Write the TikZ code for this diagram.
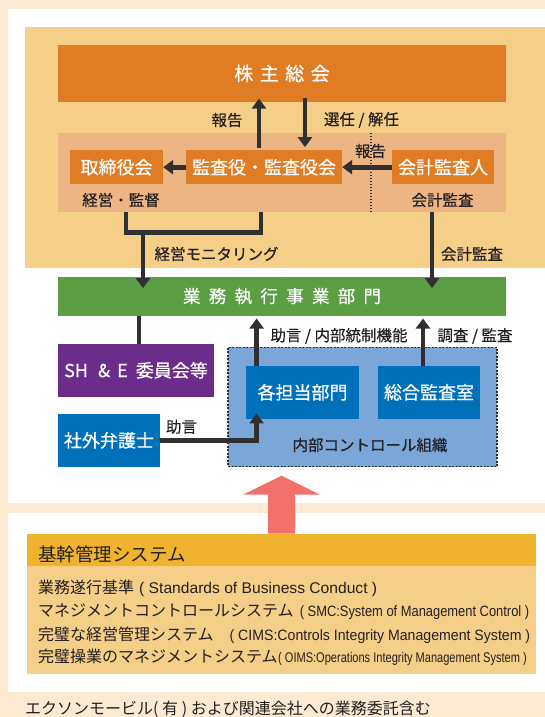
\documentclass[tikz,border=0pt]{standalone}
\usepackage{fontspec}
\setmainfont{Noto Sans CJK JP}
\newfontfamily\jpm[FakeBold=0.45]{Noto Sans CJK JP}
\newfontfamily\latf{Liberation Sans}
\usetikzlibrary{arrows.meta}
\definecolor{cream}{HTML}{FCEBD2}
\definecolor{lorange}{HTML}{F5CF88}
\definecolor{orange1}{HTML}{E07C24}
\definecolor{salmon}{HTML}{EEB584}
\definecolor{green1}{HTML}{5B9E44}
\definecolor{purple1}{HTML}{6C2C8C}
\definecolor{blue1}{HTML}{0070BA}
\definecolor{lblue}{HTML}{7BA6D8}
\definecolor{pink1}{HTML}{F1706A}
\definecolor{yel}{HTML}{EFB32F}
\definecolor{ink}{HTML}{231F20}
\definecolor{dk}{HTML}{303030}
\newcommand\hfit[2]{\resizebox{#1}{\height}{#2}}
\begin{document}
\begin{tikzpicture}[x=1pt,y=-1pt,
  box/.style={inner sep=0pt, text=white, font=\jpm\fontsize{18}{18}\selectfont},
  lbl/.style={inner sep=0pt, text=ink, font=\jpm\fontsize{15.5}{15.5}\selectfont},
  arr/.style={draw=dk, line width=4.6pt, -{Triangle[width=14pt,length=10pt]}},
  ln/.style={draw=dk, line width=4.6pt},
  jline/.style={anchor=base west, inner sep=0pt, text=ink, font=\fontsize{16}{16}\selectfont},
  eline/.style={anchor=base west, inner sep=0pt, text=ink},
]
\useasboundingbox (0,0) rectangle (545,717);
\fill[cream] (0,0) rectangle (545,717);
\fill[white] (8.3,9) rectangle (545,502.7);
\fill[white] (8.3,513.3) rectangle (545,692.3);
\fill[lorange] (25,27) rectangle (545,268.3);

% top
\node[box, fill=orange1, minimum width=448pt, minimum height=56.7pt, font=\jpm\fontsize{19}{19}\selectfont] (gm) at (282,73.4)
  {株\hspace{6.5pt}主\hspace{6.5pt}総\hspace{6.5pt}会};
\node[fill=salmon, minimum width=448pt, minimum height=78.7pt, inner sep=0pt] (band) at (282,172.35) {};
\coordinate (dl) at (371,0);
\draw[dk, line width=1.1pt, dash pattern=on 1.5pt off 1.5pt] (band.north -| dl) -- ([yshift=-1pt]band.south -| dl);

\node[box, fill=orange1, minimum width=93pt, minimum height=34.3pt] (tori) at (116.5,167.2) {取締役会};
\node[box, fill=orange1, minimum width=156pt, minimum height=34.3pt] (kansa) at (264,167.2) {監査役・監査役会};
\node[box, fill=orange1, minimum width=102pt, minimum height=34.3pt] (kaikei) at (443,167.2) {会計監査人};

\node[lbl] (l1) at (227,120) {報告};
\node[lbl] (l2) at (361.5,120) {選任 / 解任};
\node[lbl] (l3) at (370.5,151) {報告};
\node[lbl] (l4) at (121,200) {経営・監督};
\node[lbl] (l5) at (442.5,200) {会計監査};
\node[lbl] (l6) at (216.5,254) {経営モニタリング};
\node[lbl] (l7) at (472,254) {会計監査};

\coordinate (xa) at (259,0);
\coordinate (xb) at (305,0);
\draw[arr, shorten <=2pt] (kansa.north -| xa) -- ([yshift=3.4pt]gm.south -| xa);
\draw[arr, shorten >=2.7pt] ([yshift=3.5pt]gm.south -| xb) -- (kansa.north -| xb);
\draw[arr] (kansa.west) -- (tori.east);
\draw[arr] (kaikei.west) -- (kansa.east);

% green
\node[box, fill=green1, minimum width=448pt, minimum height=39pt, font=\jpm\fontsize{17.5}{17.5}\selectfont] (gyomu) at (282,296.2)
  {業\hspace{8.3pt}務\hspace{8.3pt}執\hspace{8.3pt}行\hspace{8.3pt}事\hspace{8.3pt}業\hspace{8.3pt}部\hspace{8.3pt}門};

\coordinate (bl) at (126,0);
\coordinate (br) at (261,0);
\coordinate (bh) at (0,232.5);
\coordinate (xs) at (143,0);
\coordinate (xk) at (432,0);
\draw[ln, line join=miter] (band.south -| bl) -- (bl |- bh) -- (br |- bh) -- (band.south -| br);
\draw[arr] (xs |- bh) -- ([yshift=-11.6pt]gyomu.north -| xs);
\draw[arr] (band.south -| xk) -- ([yshift=-11.6pt]gyomu.north -| xk);

% lower
\node[box, fill=purple1, minimum width=156pt, minimum height=52.7pt] (she) at (136,370.3)
  {SH\hspace{10pt}\&\hspace{7pt}E\hspace{8pt}委員会等};
\node[box, fill=blue1, minimum width=102pt, minimum height=52.7pt] (bengo) at (109,440.3) {社外弁護士};
\node[fill=lblue, draw=dk, line width=1.1pt, dash pattern=on 2pt off 1.5pt, minimum width=269pt, minimum height=119.4pt, inner sep=0pt] (ic) at (362.5,407) {};
\node[box, fill=blue1, minimum width=113pt, minimum height=52.7pt] (tanto) at (302.5,392.3) {各担当部門};
\node[box, fill=blue1, minimum width=102pt, minimum height=52.7pt] (sogo) at (429,392.3) {総合監査室};

\node[lbl] (l8) at (339,336) {助言 / 内部統制機能};
\node[lbl] (l9) at (475,336) {調査 / 監査};
\node[lbl] (l10) at (181.5,426.7) {助言};
\node[lbl] (l11) at (370,445) {内部コントロール組織};

\coordinate (xp) at (139,0);
\coordinate (xt) at (256.6,0);
\coordinate (xg) at (423,0);
\draw[ln] (gyomu.south -| xp) -- (she.north -| xp);
\draw[arr] (tanto.north -| xt) -- ([yshift=-2.6pt]gyomu.south -| xt);
\draw[arr] (sogo.north -| xg) -- ([yshift=-2.6pt]gyomu.south -| xg);
\draw[arr, line join=miter] (bengo.east) -- (xt |- bengo.east) -- ([yshift=5.4pt]tanto.south -| xt);

% bottom system box
\node[fill=yel, minimum width=509pt, minimum height=32.5pt, inner sep=0pt] (hdr) at (281.5,549.8) {};
\node[fill=lorange, minimum width=509pt, minimum height=108.3pt, inner sep=0pt] (body) at (281.5,620.2) {};
\fill[pink1] (268,533.5) -- (268,494.7) -- (243,494.7) -- (281.5,475.7) -- (320,494.7) -- (295,494.7) -- (295,533.5) -- cycle;

\node[anchor=base west, inner sep=0pt, text=ink, font=\fontsize{18.5}{18.5}\selectfont] (ht) at (38,561) {基幹管理システム};
\node[jline] (j1) at (38,593.3) {業務遂行基準};
\node[eline] (e1) at (139,593.3) {\latf\fontsize{15.5}{15.5}\selectfont\hfit{238pt}{( Standards of Business Conduct )}};
\node[jline] (j2) at (38,616) {マネジメントコントロールシステム};
\node[eline] (e2) at (299.6,616) {\latf\fontsize{15}{15}\selectfont\hfit{229.4pt}{( SMC:System of Management Control )}};
\node[jline] (j3) at (38,640) {完璧な経営管理システム};
\node[eline] (e3) at (229.4,640) {\latf\fontsize{15}{15}\selectfont\hfit{300.6pt}{( CIMS:Controls Integrity Management System )}};
\node[jline] (j4) at (38,662.7) {完璧操業のマネジメントシステム};
\node[eline] (e4) at (278,662.7) {\latf\fontsize{14}{14}\selectfont\hfit{248.6pt}{( OIMS:Operations Integrity Management System )}};

\node[jline] (foot) at (25,714) {エクソンモービル( 有 ) および関連会社への業務委託含む};
\end{tikzpicture}
\end{document}
